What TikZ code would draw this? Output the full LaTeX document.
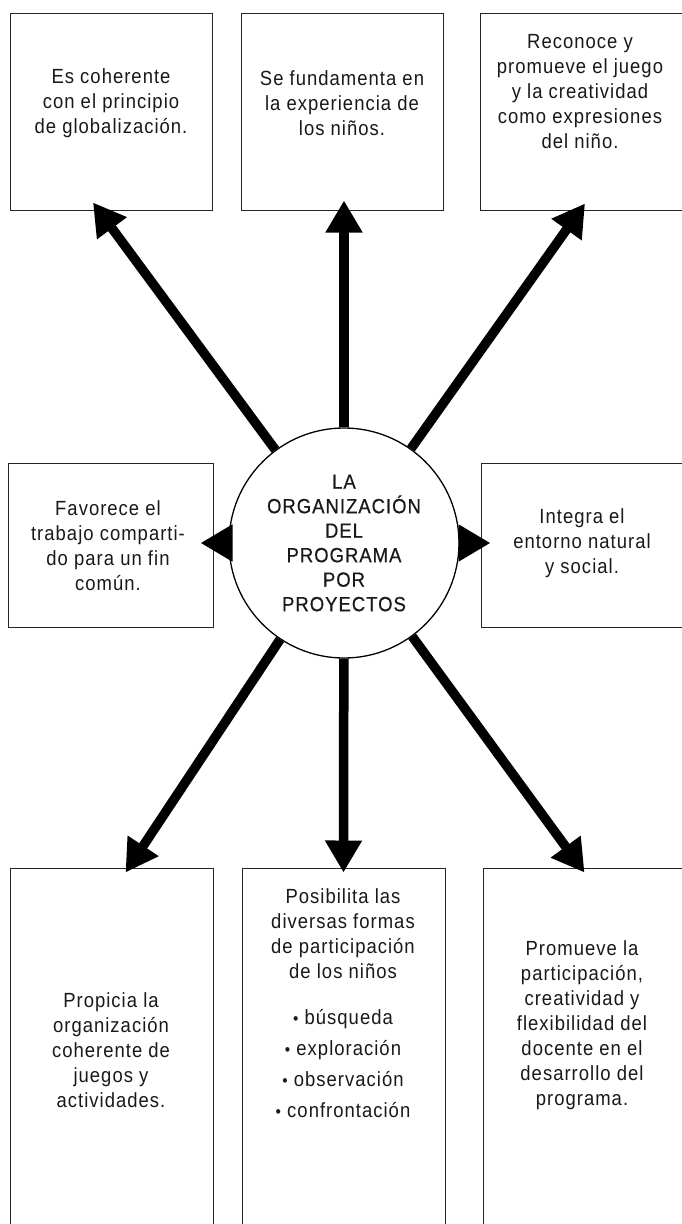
\documentclass[tikz,border=0pt]{standalone}
\usepackage{fontspec}
\setmainfont{Liberation Sans}[FakeStretch=0.9,LetterSpace=5]
\usetikzlibrary{arrows.meta,calc}

\newcommand{\punto}{{\fontsize{17}{17}\selectfont •}\ }

\begin{document}
\begin{tikzpicture}[
  x=1pt, y=-1pt,
  font=\fontsize{20.5}{25}\selectfont,
  every node/.style={align=center, text=black!90},
  %% ─── estilos ─────────────────────────────────────────────────
  card/.style={
    draw=black!85, line width=1pt, inner sep=0pt},
  cardtxt/.style={inner sep=0pt},
  hub/.style={
    draw=black, circle, line width=1.3pt,
    minimum size=230pt, inner sep=0pt,
    font=\fontsize{20.5}{24.5}\selectfont\addfontfeature{FakeBold=0.6}},
  %% ─── flechas ─────────────────────────────────────────────────
  ray/.style={-{Triangle[width=35pt,length=32pt]}, line width=9.5pt, color=black}
]

  \fill[white] (0,0) rectangle (681,1224);
  \useasboundingbox (0,0) rectangle (681,1224);

  %% ════════════════════════════════════════════════════════════════
  %%  centro
  %% ════════════════════════════════════════════════════════════════
  \node[hub] (prog) at (344,543) {LA\\ORGANIZACIÓN\\DEL\\PROGRAMA\\POR\\PROYECTOS};

  %% ── fila superior ──────────────────────────────────────────────
  \node[card, minimum width=202pt, minimum height=197pt] (glob)  at (111,111.5) {};
  \node[card, minimum width=202pt, minimum height=197pt] (exper) at (342,111.5) {};
  \node[card, minimum width=220pt, minimum height=197pt] (juego) at (590,111.5) {};

  \node[cardtxt] (globtxt)  at (111,103) {Es coherente\\con el principio\\de globalización.};
  \node[cardtxt] (expertxt) at (342,103) {Se fundamenta en\\la experiencia de\\los niños.};
  \node[cardtxt] (juegotxt) at (580,92)  {Reconoce y\\promueve el juego\\y la creatividad\\como expresiones\\del niño.};

  %% ── fila central ───────────────────────────────────────────────
  \node[card, minimum width=205pt, minimum height=164pt] (trabajo) at (110.5,545) {};
  \node[card, minimum width=219pt, minimum height=164pt] (entorno) at (590.5,545) {};

  \node[cardtxt] (trabajotxt) at (108,546) {Favorece el\\trabajo comparti-\\do para un fin\\común.};
  \node[cardtxt] (entornotxt) at (582,543) {Integra el\\entorno natural\\y social.};

  %% ── fila inferior (cortada por el borde) ─────────────────────
  \node[card, minimum width=203pt, minimum height=372pt] (activ)   at (111.5,1054) {};
  \node[card, minimum width=203pt, minimum height=372pt] (partic)  at (343.5,1054) {};
  \node[card, minimum width=217pt, minimum height=372pt] (docente) at (591.5,1054) {};

  \node[cardtxt] (activtxt) at (111,1050) {Propicia la\\organización\\coherente de\\juegos y\\actividades.};
  \node[cardtxt] (partictxt) at (343,1003) {Posibilita las\\diversas formas\\de participación\\de los niños\\[21pt]
    \punto búsqueda\\[6pt]
    \punto exploración\\[6pt]
    \punto observación\\[6pt]
    \punto confrontación};
  \node[cardtxt] (docentetxt) at (582,1025) {Promueve la\\participación,\\creatividad y\\flexibilidad del\\docente en el\\desarrollo del\\programa.};

  %% ════════════════════════════════════════════════════════════════
  %%  puntas de flecha (apoyadas sobre el borde de cada recuadro)
  %% ════════════════════════════════════════════════════════════════
  \coordinate (globtip)    at ($(glob.south)+(-18,-8)$);
  \coordinate (expertip)   at ($(exper.south)+(2,-10)$);
  \coordinate (juegotip)   at ($(juego.south)+(-5,-7)$);
  \coordinate (trabajotip) at ($(trabajo.east)+(-13,-2)$);
  \coordinate (entornotip) at ($(entorno.west)+(10,-2)$);
  \coordinate (activtip)   at ($(activ.north)+(14,5)$);
  \coordinate (partictip)  at ($(partic.north)+(0,5)$);
  \coordinate (docentetip) at ($(docente.north)+(-7,5)$);

  \foreach \t in {globtip,expertip,juegotip,trabajotip,entornotip,activtip,partictip,docentetip}
    \draw[ray] (prog) -- (\t);

\end{tikzpicture}
\end{document}
